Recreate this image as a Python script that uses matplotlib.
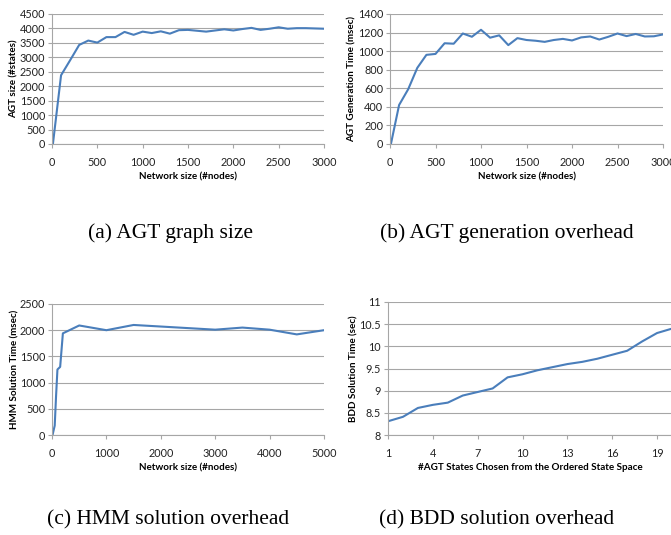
import matplotlib
matplotlib.use("Agg")
import matplotlib.pyplot as plt

# (a) AGT graph size
a_x = [10, 100, 200, 300, 400, 500, 600, 700, 800, 900, 1000, 1100, 1200, 1300, 1400, 1500,
       1600, 1700, 1800, 1900, 2000, 2100, 2200, 2300, 2400, 2500, 2600, 2700, 2800, 2900, 3000]
a_y = [0, 2380, 2900, 3430, 3580, 3510, 3700, 3700, 3880, 3780, 3890, 3840, 3900, 3820, 3940, 3950,
       3920, 3890, 3930, 3970, 3930, 3980, 4020, 3950, 3990, 4040, 3990, 4010, 4010, 4000, 3990]

# (b) AGT generation overhead
b_x = a_x
b_y = [0, 420, 590, 820, 960, 970, 1085, 1080, 1190, 1155, 1230, 1145, 1170, 1065, 1140, 1120,
       1112, 1100, 1120, 1132, 1115, 1148, 1158, 1125, 1155, 1190, 1162, 1185, 1158, 1160, 1180]

# (c) HMM solution overhead
c_x = [10, 50, 75, 100, 150, 200, 500, 1000, 1500, 2000, 2500, 3000, 3500, 4000, 4500, 5000]
c_y = [0, 180, 750, 1250, 1300, 1940, 2090, 2000, 2100, 2070, 2040, 2010, 2050, 2010, 1920, 2000]

# (d) BDD solution overhead
d_x = list(range(1, 21))
d_y = [8.31, 8.41, 8.61, 8.68, 8.73, 8.89, 8.97, 9.05, 9.30, 9.37, 9.46, 9.53, 9.60, 9.65,
       9.72, 9.81, 9.90, 10.11, 10.30, 10.40]

captions = ["(a) AGT graph size", "(b) AGT generation overhead",
            "(c) HMM solution overhead", "(d) BDD solution overhead"]

W, H = 671, 535
fig = plt.figure(figsize=(W / 100, H / 100), dpi=100)

LINE = "#4a7ebb"
GRID = "#a6a6a6"
TICKFONT = "Lato"


def make_ax(l, r, t, b):
    return fig.add_axes([l / W, (H - b) / H, (r - l) / W, (b - t) / H])


def style(ax, xlabel, ylabel):
    for s in ["top", "right"]:
        ax.spines[s].set_visible(False)
    for s in ["left", "bottom"]:
        ax.spines[s].set_color(GRID)
        ax.spines[s].set_linewidth(0.8)
    ax.yaxis.grid(True, color=GRID, linewidth=0.8)
    ax.set_axisbelow(True)
    ax.tick_params(axis="both", colors=GRID, length=3, width=0.8, labelsize=7.8,
                   labelcolor="#222222")
    ax.tick_params(axis="x", pad=6.5)
    ax.tick_params(axis="y", pad=2)
    for lab in ax.get_xticklabels() + ax.get_yticklabels():
        lab.set_fontfamily(TICKFONT)
    ax.set_xlabel(xlabel, fontsize=7.1, fontweight="bold", fontfamily=TICKFONT, labelpad=3)
    ax.set_ylabel(ylabel, fontsize=7.1, fontweight="bold", fontfamily=TICKFONT, labelpad=0.5)


# (a)
ax = make_ax(52, 324, 14, 144)
ax.plot(a_x, a_y, color=LINE, lw=1.5)
ax.set_xlim(0, 3000)
ax.set_ylim(0, 4500)
ax.set_xticks(range(0, 3001, 500))
ax.set_yticks(range(0, 4501, 500))
style(ax, "Network size (#nodes)", "AGT size (#states)")

# (b)
ax = make_ax(390, 663, 14, 144)
ax.plot(b_x, b_y, color=LINE, lw=1.5)
ax.set_xlim(0, 3000)
ax.set_ylim(0, 1400)
ax.set_xticks(range(0, 3001, 500))
ax.set_yticks(range(0, 1401, 200))
style(ax, "Network size (#nodes)", "AGT Generation Time (msec)")

# (c)
ax = make_ax(52, 324, 304, 435)
ax.plot(c_x, c_y, color=LINE, lw=1.5)
ax.set_xlim(0, 5000)
ax.set_ylim(0, 2500)
ax.set_xticks(range(0, 5001, 1000))
ax.set_yticks(range(0, 2501, 500))
style(ax, "Network size (#nodes)", "HMM Solution Time (msec)")

# (d)
ax = make_ax(388, 672, 302, 435)
ax.plot(d_x, d_y, color=LINE, lw=1.5)
ax.set_xlim(1, 20)
ax.set_ylim(8, 11)
ax.set_xticks(range(1, 21, 3))
ax.set_yticks([8, 8.5, 9, 9.5, 10, 10.5, 11])
ax.set_yticklabels(["8", "8.5", "9", "9.5", "10", "10.5", "11"])
style(ax, "#AGT States Chosen from the Ordered State Space", "BDD Solution Time (sec)")

cap_pos = [(170, 233), (507, 233), (168, 520), (497, 520)]
for (cx, cy), txt in zip(cap_pos, captions):
    fig.text(cx / W, 1 - cy / H, txt, ha="center", va="center",
             fontsize=15.5, fontfamily="Liberation Serif")

fig.savefig("out.png", dpi=100)
